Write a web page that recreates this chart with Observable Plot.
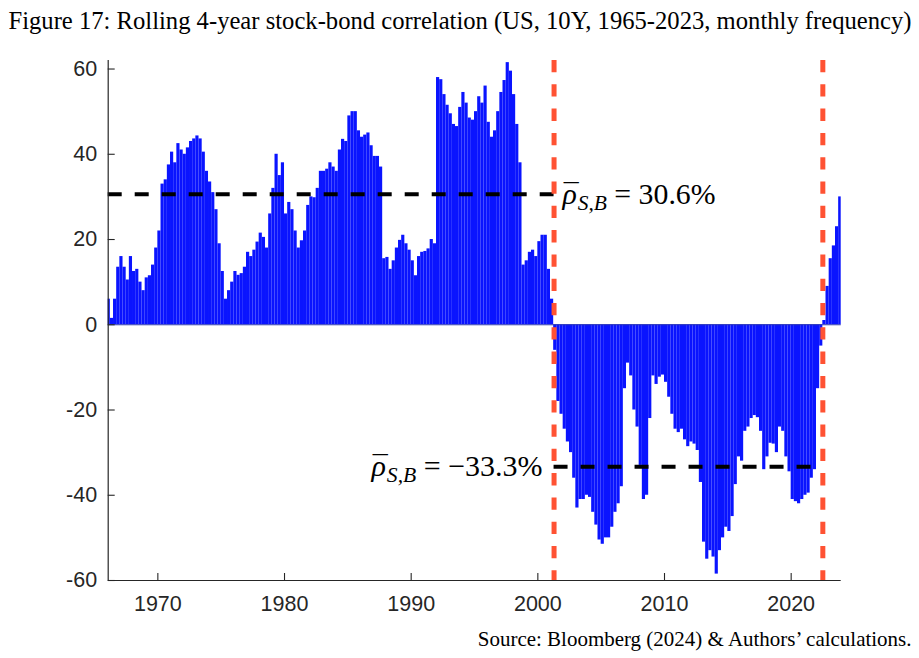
<!DOCTYPE html>
<html>
<head>
<meta charset="utf-8">
<script src="https://cdn.jsdelivr.net/npm/d3@7"></script>
<script src="https://cdn.jsdelivr.net/npm/@observablehq/plot@0.6"></script>
<style>
  html, body { margin: 0; padding: 0; background: #fff; }
  svg { display: block; }
</style>
</head>
<body>
<script>
// ---------------- DATA (quarterly readings of the rolling 4-year correlation, %) ----------------
const startYear = 1966; // first value = 1966 Q1
const corr1960s = [6, 1.5, 6, 13.5,   16, 13.5, 10.5, 16,   12.5, 13, 10, 8,   11, 11.5, 14, 18];
const corr1970s = [22, 33, 34, 37.5,   40.5, 38, 42.5, 41,   40, 41.5, 43, 43.6,   44.3, 43.6, 40.5, 36,
                   33.5, 31, 27, 19,   12.5, 6, 8, 10,   12.5, 11.6, 12, 13.5,   17, 16, 17.5, 19.4,
                   21.5, 20.5, 18, 26,   32, 40, 35, 38];
const corr1980s = [26, 28.7, 27, 22,   18, 19.7, 22, 28,   30, 29.8, 32, 36,   36, 36.5, 38, 37,
                   36, 41, 43.5, 43,   49, 50, 50, 45.5,   44, 44.5, 45, 42,   39.5, 39.5, 37, 15.5,
                   15.8, 13, 15, 18,   19.8, 21, 19, 17.5];
const corr1990s = [15, 11.5, 16, 17,   17.2, 17.8, 20, 19,   58, 57.5, 54, 51.5,   49.5, 47, 46.5, 51,
                   54.5, 52, 48.5, 48,   50, 53.5, 52, 56,   47.5, 44, 45.5, 50,   54.5, 57.3, 61.5, 59.5,
                   54, 47, 38, 14,   15, 17, 17.5, 16];
const corr2000s = [19.5, 21, 21, 13,   6, -6, -18, -21,   -24.5, -27.5, -30, -36,   -43, -41, -41, -40,
                   -40.5, -44, -47, -50.5,   -51.5, -50, -50, -47.5,   -44, -42, -38, -15,
                   -9, -12, -20, -24,   -33, -41, -40, -22,   -12, -14, -12.3, -11.8];
const corr2010s = [-13.5, -17, -21, -24.5,   -25.3, -24.5, -27, -28.6,   -27.5, -28, -29.5, -37,
                   -51, -55, -53, -54.5,   -58.5, -53, -50, -47.5,   -48.5, -45, -37.5, -31,
                   -32, -25, -24, -22,   -21.3, -21.8, -25, -34,   -31, -27.8, -28, -30,
                   -24, -25, -31, -34.5];
const corr2020s = [-41, -41.5, -42, -41,   -40, -39.5, -36, -34,   -15, -5, 1, 9,   15.5, 18.5, 23, 30];

const yearTicks  = [1970, 1980, 1990, 2000, 2010, 2020];
const valueTicks = [-60, -40, -20, 0, 20, 40, 60];
const xDomain = [1966.08, 2023.95];
const yDomain = [-60, 62];
const regimeBreaks = [2001.28, 2022.5];   // red dashed lines
const regimeMeans  = [30.6, -33.3];       // black dashed lines

const titleText   = "Figure 17: Rolling 4-year stock-bond correlation (US, 10Y, 1965-2023, monthly frequency)";
const captionText = "Source: Bloomberg (2024) & Authors\u2019 calculations.";

// ---------------- BUILD TABLES ----------------
const series = [...corr1960s, ...corr1970s, ...corr1980s, ...corr1990s, ...corr2000s, ...corr2010s, ...corr2020s];
const bars = series.map((v, i) => ({x1: startYear + i / 4, x2: startYear + (i + 1) / 4, v}));
const meanSegs = [
  {x1: xDomain[0], x2: regimeBreaks[0], y: regimeMeans[0]},
  {x1: regimeBreaks[0], x2: regimeBreaks[1], y: regimeMeans[1]}
];
const fmtPct = m => (m < 0 ? "\u2212" : "") + Math.abs(m).toFixed(1) + "%";
const annUpper = [{x: regimeBreaks[0], y: regimeMeans[0], text: "\u03C1|S,B| = " + fmtPct(regimeMeans[0])}];
const annLower = [{x: regimeBreaks[0], y: regimeMeans[1], text: "\u03C1|S,B| = " + fmtPct(regimeMeans[1])}];

// ---------------- LAYOUT / STYLE ----------------
const W = 919, H = 658;
const M = {top: 60, right: 78.3, bottom: 78, left: 107.7};
const frameW = W - M.left - M.right;
const frameH = H - M.top - M.bottom;
const tickLen = 7;
const axisColor = "#262626";
const barColor = "#0a14ff";
const baseColor = "#2a36b0";
const breakColor = "#ff5233";
const serif = "'Liberation Serif', 'Times New Roman', serif";

const svg = Plot.plot({
  width: W, height: H,
  marginTop: M.top, marginRight: M.right, marginBottom: M.bottom, marginLeft: M.left,
  style: {fontFamily: "'Liberation Sans', Arial, sans-serif", background: "#fff", color: axisColor, overflow: "visible"},
  x: {domain: xDomain, label: null},
  y: {domain: yDomain, label: null},
  marks: [
    Plot.rectY(bars, {x1: "x1", x2: "x2", y: "v", fill: barColor, clip: true}),
    Plot.ruleY([0], {stroke: baseColor, strokeWidth: 1.1}),
    Plot.ruleY(meanSegs, {y: "y", x1: "x1", x2: "x2", stroke: "#000", strokeWidth: 4, strokeDasharray: "14,13"}),
    Plot.ruleX(regimeBreaks, {stroke: breakColor, strokeWidth: 5, strokeDasharray: "12.3,12"}),
    Plot.ruleX([xDomain[0]], {stroke: axisColor, strokeWidth: 1.2}),
    Plot.ruleY([yDomain[0]], {stroke: axisColor, strokeWidth: 1.2}),
    Plot.tickX(yearTicks, {x: d => d, insetTop: frameH - tickLen, stroke: axisColor, strokeWidth: 1.1}),
    Plot.tickY(valueTicks, {y: d => d, insetRight: frameW - tickLen, stroke: axisColor, strokeWidth: 1.1}),
    Plot.axisX({ticks: yearTicks, tickSize: 0, tickPadding: 15, fontSize: 21.5, tickFormat: d => String(d)}),
    Plot.axisY({ticks: valueTicks, tickSize: 0, tickPadding: 11, fontSize: 21.5, tickFormat: d => String(d)}),
    Plot.text(annUpper, {x: "x", y: "y", text: "text", textAnchor: "start", dx: 8.5, fontFamily: serif, fontSize: 24, fill: "#000"}),
    Plot.text(annLower, {x: "x", y: "y", text: "text", textAnchor: "end", dx: -11.5, fontFamily: serif, fontSize: 24, fill: "#000"}),
    Plot.text([titleText], {text: d => d, frameAnchor: "top-left", textAnchor: "start", lineAnchor: "bottom",
      dx: 8 - M.left, dy: 28 - M.top, fontFamily: serif, fontSize: 22, fill: "#000"}),
    Plot.text([captionText], {text: d => d, frameAnchor: "bottom-right", textAnchor: "end", lineAnchor: "bottom",
      dx: 911 - (W - M.right), dy: 645 - (H - M.bottom), fontFamily: serif, fontSize: 18, fill: "#000"})
  ]
});
document.body.append(svg);

// ---------------- TEXT FINISHING ----------------
const NS = "http://www.w3.org/2000/svg";
function fitWidth(t, target) {
  const fs = parseFloat(getComputedStyle(t).fontSize);
  const w = t.getComputedTextLength();
  if (w > 0) t.setAttribute("font-size", (fs * target / w).toFixed(2));
}
function tspan(text, attrs) {
  const el = document.createElementNS(NS, "tspan");
  for (const k in attrs) el.setAttribute(k, attrs[k]);
  el.setAttribute("font-family", serif);
  el.textContent = text;
  return el;
}
function buildMath(t, parts, size) {
  while (t.firstChild) t.removeChild(t.firstChild);
  t.setAttribute("font-size", size.toFixed(2));
  t.setAttribute("font-family", serif);
  const rho  = tspan(parts[0], {"font-style": "italic"});
  const bar  = tspan("\u00AF", {});
  const sub  = tspan(parts[1], {"font-style": "italic", "font-size": (size * 0.72).toFixed(2), "dy": (size * 0.2).toFixed(2)});
  const rest = tspan(parts[2], {"dy": (-size * 0.2).toFixed(2)});
  t.append(rho, bar, sub, rest);
  const wr = rho.getComputedTextLength(), wb = bar.getComputedTextLength();
  const c = wr * 0.6;
  bar.setAttribute("dx", (c - wb / 2 - wr).toFixed(2));
  sub.setAttribute("dx", (wr - (c + wb / 2) + size * 0.03).toFixed(2));
}
svg.querySelectorAll("text").forEach(t => {
  const s = t.textContent;
  if (s.startsWith("Figure")) fitWidth(t, 903);
  else if (s.startsWith("Source")) fitWidth(t, 434);
  else if (s.includes("|")) {
    const parts = s.split("|");
    const target = s.includes("\u2212") ? 172 : 154;
    let size = 24;
    for (let k = 0; k < 3; k++) {
      buildMath(t, parts, size);
      const w = t.getBBox().width;
      if (w > 0) size = size * target / w;
    }
    buildMath(t, parts, size);
  }
});
</script>
</body>
</html>
